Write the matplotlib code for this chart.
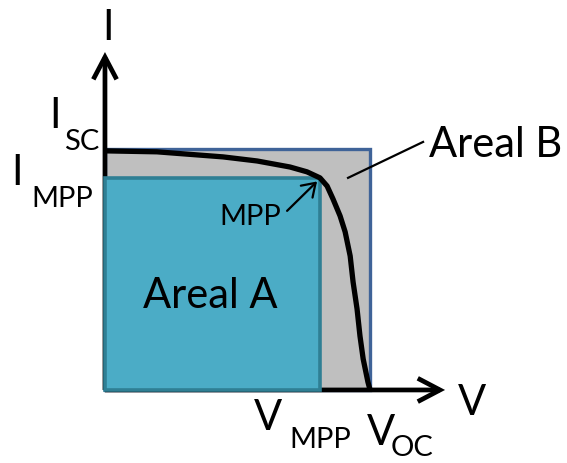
import matplotlib
matplotlib.use("Agg")
import matplotlib.pyplot as plt
from matplotlib.patches import Rectangle, FancyArrowPatch

# ---- data (normalised units: V_oc = 1, I_sc = 1) ----
curve_v = [0, 0.196, 0.445, 0.574, 0.698, 0.762, 0.811, 0.838, 0.860, 0.887,
           0.906, 0.925, 0.936, 0.951, 0.962, 0.974, 0.992, 1.0]
curve_i = [0.992, 0.988, 0.967, 0.950, 0.925, 0.905, 0.880, 0.846, 0.793, 0.722,
           0.656, 0.556, 0.448, 0.336, 0.224, 0.129, 0.033, 0.0]
v_oc = 1.0
i_sc = 1.0
v_mpp = 0.81
i_mpp = 0.88
area_labels = ["Areal A", "Areal B"]

FONT = "Lato"
BIG = 30
SUB = 21

fig = plt.figure(figsize=(5.67, 4.64), dpi=100)
ax = fig.add_axes([0, 0, 1, 1])
ax.set_xlim(-0.396, 1.743)
ax.set_ylim(-0.303, 1.622)
ax.axis("off")

# Area B (outer rectangle V_oc x I_sc)
ax.add_patch(Rectangle((0, 0), v_oc, i_sc, facecolor="#BFBFBF",
                       edgecolor="#3F6398", linewidth=2.4, zorder=1))

# axes arrows
arr_kw = dict(arrowstyle="->,head_length=0.8,head_width=0.42", mutation_scale=20,
              color="black", linewidth=3.4, shrinkA=0, shrinkB=0, zorder=2,
              joinstyle="miter", capstyle="butt")
ax.add_patch(FancyArrowPatch((0, 0), (0, 1.402), **arr_kw))
ax.add_patch(FancyArrowPatch((0, 0), (1.283, 0), **arr_kw))

# Area A (MPP rectangle)
ax.add_patch(Rectangle((0, 0), v_mpp, i_mpp, facecolor="#4BACC6",
                       edgecolor="#2F7F94", linewidth=2.6, zorder=3))

# I-V curve
ax.plot(curve_v, curve_i, color="black", linewidth=3.8, zorder=4,
        solid_capstyle="butt", solid_joinstyle="round")

# MPP arrow
ax.add_patch(FancyArrowPatch((0.687, 0.743), (v_mpp - 0.01, i_mpp - 0.015),
                             arrowstyle="->,head_length=0.45,head_width=0.3",
                             mutation_scale=20, color="black", linewidth=1.6,
                             shrinkA=0, shrinkB=0, zorder=5))
# Leader line to Areal B
ax.plot([0.917, 1.2], [0.880, 1.029], color="black", linewidth=1.6, zorder=5)

tk = dict(fontfamily=FONT, color="black", va="baseline", ha="center", zorder=6)
ax.text(0.011, 1.455, "I", fontsize=BIG, **tk)
ax.text(1.385, -0.10, "V", fontsize=BIG, **tk)

ax.text(-0.189, 1.091, "I", fontsize=BIG, **tk)
ax.text(-0.087, i_sc, "SC", fontsize=SUB, **tk)
ax.text(-0.332, 0.855, "I", fontsize=BIG, **tk)
ax.text(-0.162, 0.763, "MPP", fontsize=SUB, **tk)

ax.text(0.615, -0.162, "V", fontsize=BIG, **tk)
ax.text(0.811, -0.237, "MPP", fontsize=SUB, **tk)
ax.text(1.042, -0.224, "V", fontsize=BIG, **tk)
ax.text(1.158, -0.27, "OC", fontsize=SUB, **tk)

ax.text(0.547, 0.689, "MPP", fontsize=SUB, **tk)
ax.text(0.396, 0.344, area_labels[0], fontsize=BIG, **tk)
tk_left = dict(tk)
tk_left["ha"] = "left"
ax.text(1.222, 0.971, area_labels[1], fontsize=BIG, **tk_left)

fig.savefig("out.png", dpi=100)
